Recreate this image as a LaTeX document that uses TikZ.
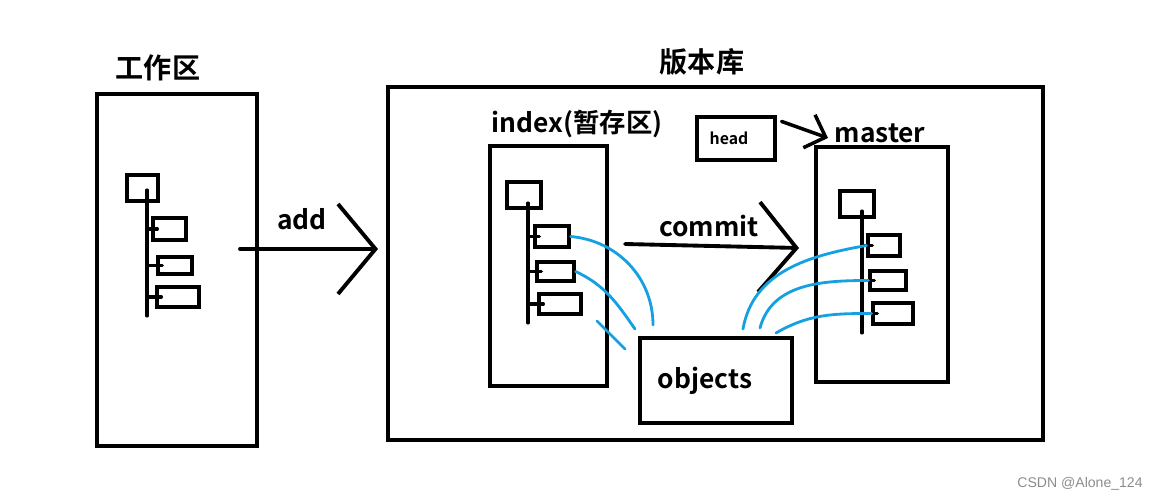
\documentclass[tikz,border=0pt]{standalone}
\usepackage{fontspec}
\setmainfont{Noto Sans CJK SC Bold}
\newfontfamily\wmfont{Liberation Sans}
\usetikzlibrary{arrows.meta, positioning, calc}
\definecolor{my_blue}{RGB}{20, 160, 225}
\definecolor{my_gray}{RGB}{140, 140, 140}
\tikzset {
  area/.style = {draw, line width=2.3pt, rectangle, inner sep=0pt},
  leaf/.style = {draw, line width=1.8pt, rectangle, inner sep=0pt},
  title/.style = {inner sep=0pt, font=\fontsize{16}{18}\selectfont},
  tag/.style = {inner sep=0pt, font=\fontsize{15}{18}\selectfont},
  trunk/.style = {line width=1.8pt, line cap=round},
  line/.style = {line width=2.2pt, line cap=round, -{Straight Barb[length=0.75cm, width=1.8cm]}},
  small line/.style = {line width=2pt, line cap=round, -{Straight Barb[length=0.35cm, width=0.7cm]}},
  link/.style = {my_blue, line width=1.6pt, line cap=round}
}

\begin{document}
\begin{tikzpicture}[x=0.02cm, y=-0.02cm]
  \useasboundingbox (0,0) rectangle (1159,500);

  % working area
  \node[title] (wtitle) at (158,68) {工作区};
  \node[area, minimum width=3.2cm, minimum height=7.04cm] (work) at (177,270) {};
  \node[leaf, minimum width=0.62cm, minimum height=0.52cm] (wtop) at (142.5,188) {};
  \node[leaf, minimum width=0.66cm, minimum height=0.44cm] (wc1) at (169.5,229) {};
  \node[leaf, minimum width=0.68cm, minimum height=0.34cm] (wc2) at (175,265.5) {};
  \node[leaf, minimum width=0.84cm, minimum height=0.40cm] (wc3) at (178,297) {};
  \coordinate (wt1) at (147,190);
  \coordinate (wt2) at (147,316);
  \draw[trunk] (wt1) -- (wt2);
  \foreach \c in {wc1, wc2, wc3}
    \draw[trunk] (\c.west -| wt1) -- ([xshift=0.12cm]\c.west);

  % add
  \coordinate (addfrom) at (240,249);
  \coordinate (addto) at (378,249);
  \draw[line] (addfrom) -- (addto);
  \node[tag] (addlbl) at (302,219) {add};

  % repository
  \node[title] (rtitle) at (702,62) {版本库};
  \node[area, minimum width=13.1cm, minimum height=7.06cm] (repo) at (715.5,263.5) {};

  % index
  \node[tag] (ititle) at (577,124) {index(暂存区)};
  \node[area, minimum width=2.34cm, minimum height=4.8cm] (index) at (548.5,266) {};
  \node[leaf, minimum width=0.68cm, minimum height=0.52cm] (itop) at (524,195) {};
  \node[leaf, minimum width=0.68cm, minimum height=0.42cm] (ic1) at (552,236.5) {};
  \node[leaf, minimum width=0.74cm, minimum height=0.38cm] (ic2) at (555.5,271.5) {};
  \node[leaf, minimum width=0.84cm, minimum height=0.40cm] (ic3) at (560,304) {};
  \coordinate (it1) at (528,203);
  \coordinate (it2) at (528,323);
  \draw[trunk] (it1) -- (it2);
  \foreach \c in {ic1, ic2, ic3}
    \draw[trunk] (\c.west -| it1) -- ([xshift=0.12cm]\c.west);

  % master
  \node[tag] (mtitle) at (880,133) {master};
  \node[area, minimum width=2.64cm, minimum height=4.7cm] (mst) at (882,264.5) {};
  \node[leaf, minimum width=0.68cm, minimum height=0.52cm] (mtop) at (857,204) {};
  \node[leaf, minimum width=0.64cm, minimum height=0.42cm] (mc1) at (884,245.5) {};
  \node[leaf, minimum width=0.72cm, minimum height=0.38cm] (mc2) at (888,280.5) {};
  \node[leaf, minimum width=0.80cm, minimum height=0.42cm] (mc3) at (893,313.5) {};
  \coordinate (mt1) at (862,211);
  \coordinate (mt2) at (862,333);
  \draw[trunk] (mt1) -- (mt2);
  \foreach \c in {mc1, mc2, mc3}
    \draw[trunk] (\c.west -| mt1) -- ([xshift=0.12cm]\c.west);

  % head
  \node[leaf, minimum width=1.56cm, minimum height=0.86cm, font=\fontsize{9}{11}\selectfont] (hd) at (736,138.5) {head\hspace*{0.28cm}};
  \draw[small line] ($(hd.north east)+(5,6)$) -- ($(mst.north west)+(14,-7)$);

  % commit
  \coordinate (cmfrom) at (625,244);
  \coordinate (cmto) at (799,248);
  \draw[line] (cmfrom) -- (cmto);
  \node[tag] (cmlbl) at (709,226) {commit};

  % objects
  \node[area, minimum width=3.04cm, minimum height=1.7cm, font=\fontsize{15}{18}\selectfont] (obj) at (716,380.5) {objects\hspace*{0.44cm}};

  % links to objects
  \draw[link] (ic1.east) to[out=-5, in=90] ($(obj.north west)+(15,-11)$);
  \draw[link] (ic2.east) to[out=-25, in=125] ($(obj.north west)+(-3,-7)$);
  \coordinate (ls1) at (597,321);
  \coordinate (ls2) at (625,349);
  \draw[link] (ls1) -- (ls2);
  \draw[link] ($(obj.north west)+(105,-7)$) to[out=80, in=190] (mc1.west);
  \draw[link] ($(obj.north west)+(122,-8)$) to[out=75, in=180] (mc2.west);
  \draw[link] ($(obj.north west)+(138,-3)$) to[out=30, in=180] (mc3.west);

  \node[inner sep=0pt, text=my_gray, font=\wmfont\fontsize{8}{10}\selectfont] (wm) at (1080,484) {CSDN @Alone\_124};
\end{tikzpicture}
\end{document}
